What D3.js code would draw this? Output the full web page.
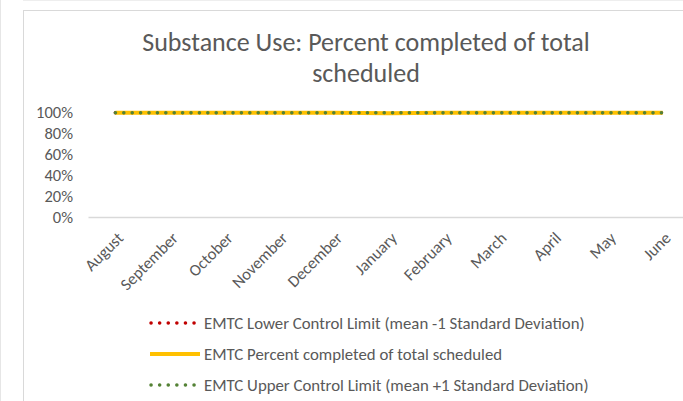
<!DOCTYPE html>
<html lang="en">
<head>
<meta charset="UTF-8">
<title>Substance Use: Percent completed of total scheduled</title>
<script src="https://cdn.jsdelivr.net/npm/d3@7/dist/d3.min.js"></script>
<style>
    body { margin: 0; background: #fff; }
    svg { display: block; font-family: Carlito, Lato, "Open Sans", sans-serif; }
</style>
</head>
<body>
<svg id="chart" width="683" height="401"></svg>
<script>
    // data
    const months = ["August", "September", "October", "November", "December", "January",
                    "February", "March", "April", "May", "June"];
    const percentDone = [0.993, 0.993, 0.993, 0.993, 0.993, 0.988, 0.993, 0.993, 0.993, 0.993, 0.993];
    const lowerLimit = [0.993, 0.993, 0.993, 0.993, 0.993, 0.993, 0.993, 0.993, 0.993, 0.993, 0.993];
    const upperLimit = [0.993, 0.993, 0.993, 0.993, 0.993, 0.993, 0.993, 0.993, 0.993, 0.993, 0.993];
    const yTicks = [0, 0.2, 0.4, 0.6, 0.8, 1];
    const legendLabels = [
        "EMTC Lower Control Limit (mean -1 Standard Deviation)",
        "EMTC Percent completed of total scheduled",
        "EMTC Upper Control Limit (mean +1 Standard Deviation)"
    ];

    const svg = d3.select("#chart");
    const grey = "#595959";
    const font = "Carlito, Lato, 'Open Sans', sans-serif";

    // outer frames
    svg.append("line").attr("x1", 0.5).attr("x2", 0.5).attr("y1", 0).attr("y2", 401)
        .attr("stroke", "#e6e6e6");
    svg.append("line").attr("x1", 23).attr("x2", 683).attr("y1", 0.5).attr("y2", 0.5)
        .attr("stroke", "#eeeeee");
    svg.append("rect").attr("x", 23.5).attr("y", 10.5).attr("width", 700).attr("height", 420)
        .attr("fill", "none").attr("stroke", "#d9d9d9");

    // title
    const title = svg.append("text").attr("text-anchor", "middle")
        .attr("fill", grey).style("font-size", "26px");
    title.append("tspan").attr("x", 366).attr("y", 51).text("Substance Use: Percent completed of total");
    title.append("tspan").attr("x", 366).attr("y", 82).text("scheduled");

    const plotLeft = 88, plotRight = 690, plotTop = 112, plotBottom = 217;
    const x = d3.scaleBand().domain(months).range([plotLeft, plotRight]);
    const y = d3.scaleLinear().domain([0, 1]).range([plotBottom, plotTop]);

    // y axis labels
    const yAxis = svg.append("g").attr("transform", `translate(${plotLeft - 12},0)`)
        .call(d3.axisLeft(y).tickValues(yTicks).tickSize(0).tickFormat(d3.format(".0%")));
    yAxis.select(".domain").remove();
    yAxis.selectAll("text").attr("fill", grey).style("font-size", "16.5px")
        .style("font-family", font);

    // category axis
    const xAxis = svg.append("g").attr("transform", `translate(0,${plotBottom})`)
        .call(d3.axisBottom(x).tickSize(0).tickSizeOuter(0));
    xAxis.select(".domain").attr("stroke", "#d9d9d9").attr("stroke-width", 1.5);
    xAxis.selectAll("text")
        .attr("fill", grey).style("font-size", "16.5px")
        .style("font-family", font)
        .attr("text-anchor", "end")
        .attr("dy", "0.35em")
        .attr("transform", "translate(5,18) rotate(-45)")
        .attr("y", 0).attr("x", 0);

    const line = d3.line()
        .x((d, i) => x(months[i]) + x.bandwidth() / 2)
        .y(d => y(d));

    // lower limit (hidden behind the others)
    svg.append("path").datum(lowerLimit).attr("d", line)
        .attr("fill", "none").attr("stroke", "#c00000").attr("stroke-width", 3.5)
        .attr("stroke-dasharray", "0.1 8.3").attr("stroke-linecap", "round");
    svg.append("path").datum(percentDone).attr("d", line)
        .attr("fill", "none").attr("stroke", "#ffc000").attr("stroke-width", 4);
    svg.append("path").datum(upperLimit).attr("d", line)
        .attr("fill", "none").attr("stroke", "#548235").attr("stroke-width", 3.5)
        .attr("stroke-dasharray", "0.1 8.3").attr("stroke-linecap", "round");

    // legend
    const legendY = [323, 354, 385];
    const legendStyle = [
        { color: "#c00000", width: 3.5, dash: "0.1 8.5", cap: "round" },
        { color: "#ffc000", width: 4, dash: null, cap: "butt" },
        { color: "#548235", width: 3.5, dash: "0.1 8.5", cap: "round" }
    ];
    const legend = svg.append("g");
    legendLabels.forEach((label, i) => {
        const s = legendStyle[i];
        legend.append("line")
            .attr("x1", s.dash ? 151 : 150).attr("x2", s.dash ? 196 : 200)
            .attr("y1", legendY[i]).attr("y2", legendY[i])
            .attr("stroke", s.color).attr("stroke-width", s.width)
            .attr("stroke-dasharray", s.dash).attr("stroke-linecap", s.cap);
        legend.append("text").attr("x", 204).attr("y", legendY[i]).attr("dy", "0.35em")
            .attr("fill", grey).style("font-size", "16.8px").text(label);
    });
</script>
</body>
</html>
